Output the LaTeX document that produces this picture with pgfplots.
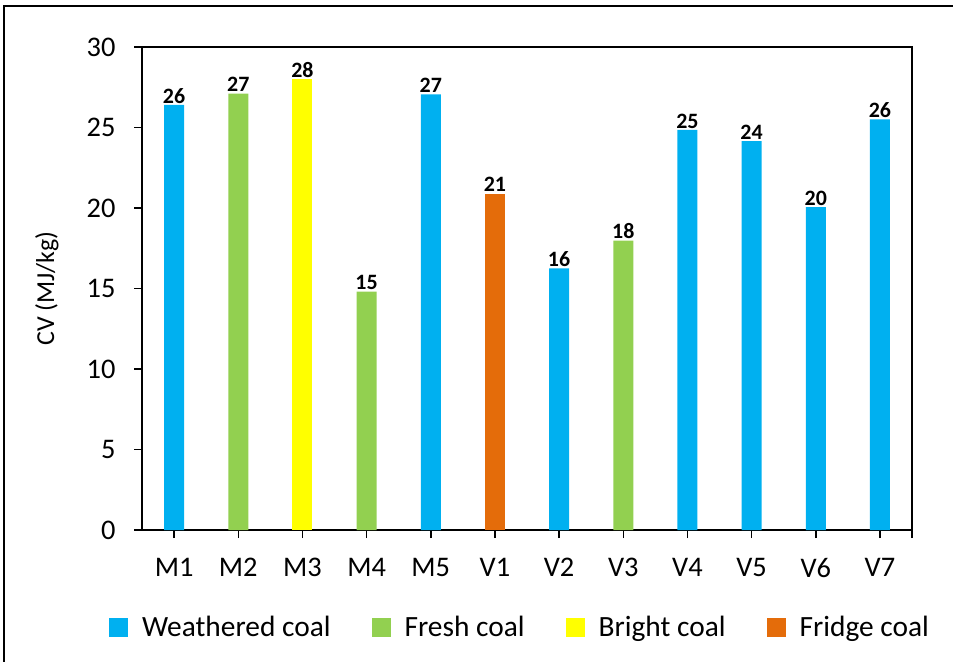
\documentclass[border=0pt]{standalone}
\usepackage{pgfplots}
\pgfplotsset{compat=1.18}
\usepackage{fontspec}
\setmainfont{Carlito}
\definecolor{cblue}{HTML}{00B0F0}
\definecolor{cgreen}{HTML}{92D050}
\definecolor{cyellow}{HTML}{FFFF00}
\definecolor{corange}{HTML}{E46C0A}
\begin{document}
\begin{tikzpicture}[x=1bp,y=1bp]
\useasboundingbox (0,0) rectangle (953,-662);
\draw[line width=1.5bp] (4,-662) -- (4,-6) -- (953,-6);
\begin{axis}[
  at={(142bp,-530bp)}, anchor=south west,
  width=770bp, height=483bp, scale only axis,
  xmin=-0.5, xmax=11.5, ymin=0, ymax=30,
  ytick={0,5,...,30},
  xtick={0,...,11},
  xticklabels={M1,M2,M3,M4,M5,V1,V2,V3,V4,V5,V6,V7},
  extra x ticks={11.5}, extra x tick labels={},
  tick align=outside, major tick length=8bp,
  xtick pos=lower, ytick pos=left,
  tick style={black, line width=1.5bp},
  axis line style={line width=1.8bp},
  ybar, bar width=20bp, bar shift=0pt,
  ylabel={CV (MJ/kg)},
  ylabel style={at={(axis description cs:-0.1234,0.5)}, anchor=center, font=\fontsize{26}{31}\selectfont},
  ticklabel style={font=\fontsize{28.5}{34}\selectfont},
  yticklabel style={xshift=-15bp},
  xticklabel style={yshift=-17bp},
  /pgf/number format/assume math mode=true,
  nodes near coords, point meta=explicit symbolic,
  nodes near coords style={font=\bfseries\fontsize{22}{26}\selectfont, inner sep=1.5bp, anchor=south},
  legend columns=4,
  legend style={at={(axis description cs:-0.043,-0.2008)}, anchor=west, draw=none, fill=none,
    inner sep=0pt, font=\fontsize{29.5}{35}\selectfont,
    /tikz/every odd column/.append style={column sep=14bp},
    /tikz/every even column/.append style={column sep=41bp},
    nodes={inner sep=0pt}},
  legend image code/.code={\fill[#1] (0bp,-9.5bp) rectangle (19bp,9.5bp);},
]
\addplot[fill=cblue, draw=none] table[x=x,y=y,meta=l] {
x y l
0 26.4 26
4 27.05 27
6 16.25 16
8 24.85 25
9 24.15 24
10 20.05 20
11 25.5 26
};
\addlegendentry{Weathered coal}
\addplot[fill=cgreen, draw=none] table[x=x,y=y,meta=l] {
x y l
1 27.1 27
3 14.8 15
7 17.97 18
};
\addlegendentry{Fresh coal}
\addplot[fill=cyellow, draw=none] table[x=x,y=y,meta=l] {
x y l
2 28.0 28
};
\addlegendentry{Bright coal}
\addplot[fill=corange, draw=none] table[x=x,y=y,meta=l] {
x y l
5 20.9 21
};
\addlegendentry{Fridge coal}
\end{axis}
\end{tikzpicture}
\end{document}
